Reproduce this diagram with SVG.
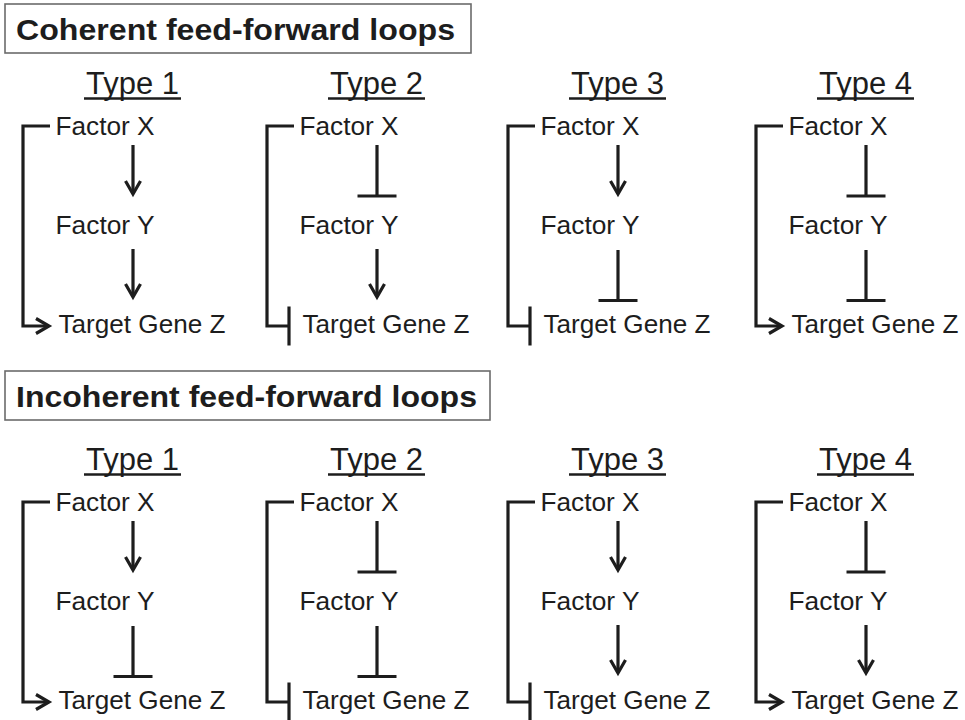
<svg xmlns="http://www.w3.org/2000/svg" width="965" height="720" viewBox="0 0 965 720">
  <style>
    .ln { fill: none; stroke: #1d1d1d; stroke-width: 3.2; stroke-linejoin: miter; stroke-linecap: butt; }
    .ul { stroke: #1d1d1d; stroke-width: 2.4; }
    .box { fill: #ffffff; stroke: #6b6b6b; stroke-width: 1.6; }
    text { font-family: "Liberation Sans", Arial, Helvetica, sans-serif; fill: #1d1d1d; }
    .lbl { font-size: 26px; }
    .type { font-size: 31px; text-anchor: middle; }
    .title { font-size: 30px; font-weight: bold; }
  </style>
  <defs>
    <!-- open chevron: activation -->
    <marker id="act" markerUnits="userSpaceOnUse" orient="auto" overflow="visible" markerWidth="1" markerHeight="1">
      <path d="M-13,-7.5 L0,0 L-13,7.5" fill="none" stroke="#1d1d1d" stroke-width="3.2" stroke-linejoin="miter"/>
    </marker>
    <!-- flat bar: repression -->
    <marker id="inh" markerUnits="userSpaceOnUse" orient="auto" overflow="visible" markerWidth="1" markerHeight="1">
      <path d="M0,-19.5 V19.5" fill="none" stroke="#1d1d1d" stroke-width="3.2"/>
    </marker>
  </defs>

  <rect width="965" height="720" fill="#ffffff"/>

  <!-- section headings -->
  <g id="title-coherent">
    <rect class="box" x="5" y="4" width="466" height="49"/>
    <text class="title" x="16" y="40" textLength="439" lengthAdjust="spacingAndGlyphs">Coherent feed-forward loops</text>
  </g>
  <g id="title-incoherent">
    <rect class="box" x="5" y="371" width="485" height="49"/>
    <text class="title" x="16" y="406.5" textLength="461" lengthAdjust="spacingAndGlyphs">Incoherent feed-forward loops</text>
  </g>

  <!-- column headings -->
  <g id="type-labels">
    <text class="type" x="132.5" y="94" textLength="93" lengthAdjust="spacingAndGlyphs">Type 1</text>
    <line class="ul" x1="84" y1="98.5" x2="181" y2="98.5"/>
    <text class="type" x="376.5" y="94" textLength="93" lengthAdjust="spacingAndGlyphs">Type 2</text>
    <line class="ul" x1="328" y1="98.5" x2="425" y2="98.5"/>
    <text class="type" x="617.5" y="94" textLength="93" lengthAdjust="spacingAndGlyphs">Type 3</text>
    <line class="ul" x1="569" y1="98.5" x2="666" y2="98.5"/>
    <text class="type" x="865.5" y="94" textLength="93" lengthAdjust="spacingAndGlyphs">Type 4</text>
    <line class="ul" x1="817" y1="98.5" x2="914" y2="98.5"/>

    <text class="type" x="132.5" y="470" textLength="93" lengthAdjust="spacingAndGlyphs">Type 1</text>
    <line class="ul" x1="84" y1="474.5" x2="181" y2="474.5"/>
    <text class="type" x="376.5" y="470" textLength="93" lengthAdjust="spacingAndGlyphs">Type 2</text>
    <line class="ul" x1="328" y1="474.5" x2="425" y2="474.5"/>
    <text class="type" x="617.5" y="470" textLength="93" lengthAdjust="spacingAndGlyphs">Type 3</text>
    <line class="ul" x1="569" y1="474.5" x2="666" y2="474.5"/>
    <text class="type" x="865.5" y="470" textLength="93" lengthAdjust="spacingAndGlyphs">Type 4</text>
    <line class="ul" x1="817" y1="474.5" x2="914" y2="474.5"/>
  </g>

  <!-- nodes: coherent row -->
  <g id="c1-x"><text class="lbl" x="55.5" y="135" textLength="99" lengthAdjust="spacingAndGlyphs">Factor X</text></g>
  <g id="c1-y"><text class="lbl" x="55.5" y="234" textLength="99" lengthAdjust="spacingAndGlyphs">Factor Y</text></g>
  <g id="c1-z"><text class="lbl" x="58.5" y="333" textLength="167" lengthAdjust="spacingAndGlyphs">Target Gene Z</text></g>

  <g id="c2-x"><text class="lbl" x="299.5" y="135" textLength="99" lengthAdjust="spacingAndGlyphs">Factor X</text></g>
  <g id="c2-y"><text class="lbl" x="299.5" y="234" textLength="99" lengthAdjust="spacingAndGlyphs">Factor Y</text></g>
  <g id="c2-z"><text class="lbl" x="302.5" y="333" textLength="167" lengthAdjust="spacingAndGlyphs">Target Gene Z</text></g>

  <g id="c3-x"><text class="lbl" x="540.5" y="135" textLength="99" lengthAdjust="spacingAndGlyphs">Factor X</text></g>
  <g id="c3-y"><text class="lbl" x="540.5" y="234" textLength="99" lengthAdjust="spacingAndGlyphs">Factor Y</text></g>
  <g id="c3-z"><text class="lbl" x="543.5" y="333" textLength="167" lengthAdjust="spacingAndGlyphs">Target Gene Z</text></g>

  <g id="c4-x"><text class="lbl" x="788.5" y="135" textLength="99" lengthAdjust="spacingAndGlyphs">Factor X</text></g>
  <g id="c4-y"><text class="lbl" x="788.5" y="234" textLength="99" lengthAdjust="spacingAndGlyphs">Factor Y</text></g>
  <g id="c4-z"><text class="lbl" x="791.5" y="333" textLength="167" lengthAdjust="spacingAndGlyphs">Target Gene Z</text></g>

  <!-- nodes: incoherent row -->
  <g id="i1-x"><text class="lbl" x="55.5" y="511" textLength="99" lengthAdjust="spacingAndGlyphs">Factor X</text></g>
  <g id="i1-y"><text class="lbl" x="55.5" y="610" textLength="99" lengthAdjust="spacingAndGlyphs">Factor Y</text></g>
  <g id="i1-z"><text class="lbl" x="58.5" y="709" textLength="167" lengthAdjust="spacingAndGlyphs">Target Gene Z</text></g>

  <g id="i2-x"><text class="lbl" x="299.5" y="511" textLength="99" lengthAdjust="spacingAndGlyphs">Factor X</text></g>
  <g id="i2-y"><text class="lbl" x="299.5" y="610" textLength="99" lengthAdjust="spacingAndGlyphs">Factor Y</text></g>
  <g id="i2-z"><text class="lbl" x="302.5" y="709" textLength="167" lengthAdjust="spacingAndGlyphs">Target Gene Z</text></g>

  <g id="i3-x"><text class="lbl" x="540.5" y="511" textLength="99" lengthAdjust="spacingAndGlyphs">Factor X</text></g>
  <g id="i3-y"><text class="lbl" x="540.5" y="610" textLength="99" lengthAdjust="spacingAndGlyphs">Factor Y</text></g>
  <g id="i3-z"><text class="lbl" x="543.5" y="709" textLength="167" lengthAdjust="spacingAndGlyphs">Target Gene Z</text></g>

  <g id="i4-x"><text class="lbl" x="788.5" y="511" textLength="99" lengthAdjust="spacingAndGlyphs">Factor X</text></g>
  <g id="i4-y"><text class="lbl" x="788.5" y="610" textLength="99" lengthAdjust="spacingAndGlyphs">Factor Y</text></g>
  <g id="i4-z"><text class="lbl" x="791.5" y="709" textLength="167" lengthAdjust="spacingAndGlyphs">Target Gene Z</text></g>

  <!-- connectors -->
  <g id="connectors">
    <!-- coherent type 1: X->Y, Y->Z, X->Z -->
    <line class="ln" x1="133" y1="145" x2="133" y2="194" marker-end="url(#act)"/>
    <line class="ln" x1="133" y1="249" x2="133" y2="297" marker-end="url(#act)"/>
    <path class="ln" d="M50,126 H23 V326 H49" marker-end="url(#act)"/>

    <!-- coherent type 2: X-|Y, Y->Z, X-|Z -->
    <line class="ln" x1="377" y1="145" x2="377" y2="196" marker-end="url(#inh)"/>
    <line class="ln" x1="377" y1="249" x2="377" y2="297" marker-end="url(#act)"/>
    <path class="ln" d="M294,126 H267 V326 H289" marker-end="url(#inh)"/>

    <!-- coherent type 3: X->Y, Y-|Z, X-|Z -->
    <line class="ln" x1="618" y1="145" x2="618" y2="194" marker-end="url(#act)"/>
    <line class="ln" x1="618" y1="250" x2="618" y2="300.5" marker-end="url(#inh)"/>
    <path class="ln" d="M535,126 H508 V326 H530" marker-end="url(#inh)"/>

    <!-- coherent type 4: X-|Y, Y-|Z, X->Z -->
    <line class="ln" x1="866" y1="145" x2="866" y2="196" marker-end="url(#inh)"/>
    <line class="ln" x1="866" y1="250" x2="866" y2="300.5" marker-end="url(#inh)"/>
    <path class="ln" d="M783,126 H756 V326 H782" marker-end="url(#act)"/>

    <!-- incoherent type 1: X->Y, Y-|Z, X->Z -->
    <line class="ln" x1="133" y1="521" x2="133" y2="570" marker-end="url(#act)"/>
    <line class="ln" x1="133" y1="626" x2="133" y2="676.5" marker-end="url(#inh)"/>
    <path class="ln" d="M50,502 H23 V702 H49" marker-end="url(#act)"/>

    <!-- incoherent type 2: X-|Y, Y-|Z, X-|Z -->
    <line class="ln" x1="377" y1="521" x2="377" y2="572" marker-end="url(#inh)"/>
    <line class="ln" x1="377" y1="626" x2="377" y2="676.5" marker-end="url(#inh)"/>
    <path class="ln" d="M294,502 H267 V702 H289" marker-end="url(#inh)"/>

    <!-- incoherent type 3: X->Y, Y->Z, X-|Z -->
    <line class="ln" x1="618" y1="521" x2="618" y2="570" marker-end="url(#act)"/>
    <line class="ln" x1="618" y1="625" x2="618" y2="673" marker-end="url(#act)"/>
    <path class="ln" d="M535,502 H508 V702 H530" marker-end="url(#inh)"/>

    <!-- incoherent type 4: X-|Y, Y->Z, X->Z -->
    <line class="ln" x1="866" y1="521" x2="866" y2="572" marker-end="url(#inh)"/>
    <line class="ln" x1="866" y1="625" x2="866" y2="673" marker-end="url(#act)"/>
    <path class="ln" d="M783,502 H756 V702 H782" marker-end="url(#act)"/>
  </g>
</svg>
